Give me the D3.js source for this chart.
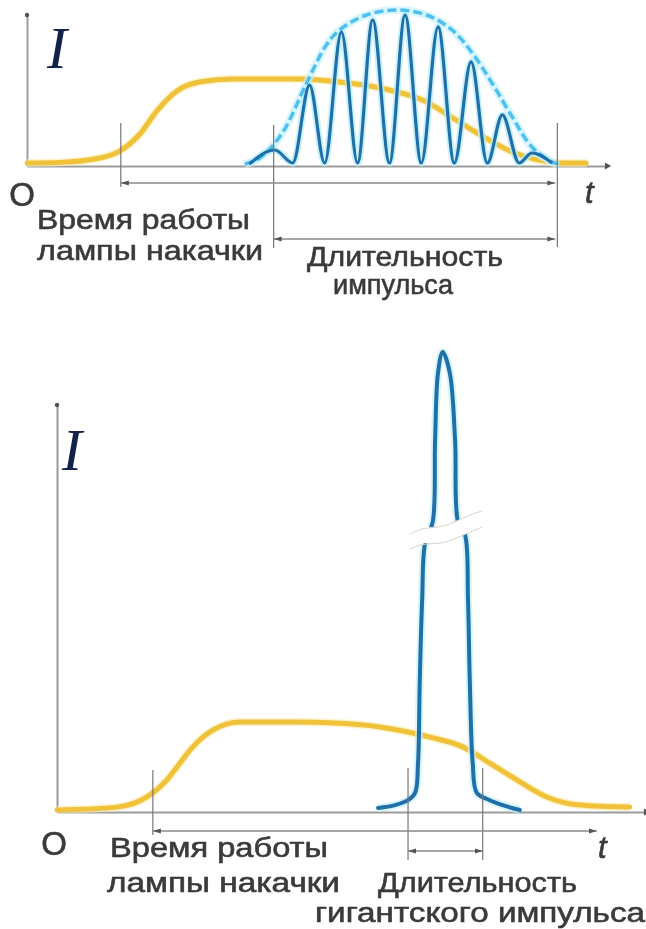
<!DOCTYPE html>
<html><head><meta charset="utf-8">
<script src="https://cdn.jsdelivr.net/npm/d3@7"></script>
<style>body{margin:0;background:#fff}svg{display:block}</style>
</head><body>
<script>
// ---------- DATA (t: 0..100 along time axis, I: 0..100 along intensity axis) ----------
// Top panel: free-running laser
const topPump = [[0,2.0],[5.7,2.4],[12.6,5.3],[16.0,9.9],[19.5,21.2],[22.4,36.4],[25.9,49.7],[29.8,55.6],[35.5,57.6],[47.1,57.6],[54.0,55.6],[62.6,50.3],[68.3,43.7],[74.1,30.5],[79.8,17.2],[83.8,9.3],[88.4,4.0],[92.8,2.0],[96.6,2.0]];
const topEnvelope = [[37.6,1.3],[40.2,5.3],[44.1,21.9],[48.3,55.0],[51.7,80.1],[54.0,90.1],[58.6,100],[63.8,103.3],[69.0,100],[73.4,90.1],[76.9,74.8],[80.3,55.0],[83.8,32.5],[87.2,12.6],[90.7,2.6],[91.9,1.3]];
const topPulse = [[38.4,1.3],[42.8,10.6],[45.9,2.0],[48.8,53.6],[51.4,2.0],[54.3,88.7],[57.1,2.0],[59.7,96.7],[62.6,2.0],[65.3,100],[68.1,2.0],[71.0,92.1],[73.8,2.0],[76.7,68.9],[79.5,2.0],[82.1,33.8],[85.0,2.0],[87.2,8.6],[90.7,2.0]];
const topMarkers = [16.2, 42.6, 91.6];      // vertical marker lines (t)
const topMarkerTop = [28.5, 27.2, 28.5];    // I where marker lines start
// Bottom panel: Q-switched (giant pulse)
const botPump = [[0,0.5],[10.2,1.2],[15.3,3.7],[18.7,7.9],[20.9,12.0],[23.1,16.0],[26.5,20.1],[31.1,22.1],[41.3,22.1],[46.4,21.9],[54.9,20.9],[63.4,18.4],[69.0,16.0],[73.6,12.0],[78.2,7.9],[83.3,3.7],[88.9,1.7],[97.4,1.2]];
const botPulse = [[54.6,1.0],[57.5,1.7],[59.7,2.9],[60.9,4.7],[61.4,12.0],[61.7,32.4],[62.1,52.1],[62.6,66.1],[63.9,71.3],[64.3,91.4],[64.8,107.9],[65.6,113.0],[66.8,107.9],[67.7,91.4],[68.2,71.3],[69.4,68.1],[69.9,52.1],[70.2,32.4],[70.7,12.0],[71.4,4.7],[73.6,2.9],[76.2,1.5],[78.7,0.5]];
const botBreakUpper = [[60.0,68.3],[62.6,70.0],[65.1,69.8],[67.7,71.3],[70.2,73.0],[72.3,74.0]];
const botBreakLower = [[72.3,70.0],[70.2,68.8],[67.7,67.1],[65.1,65.8],[62.6,66.1],[60.0,64.6]];
const botMarkers = [16.3, 59.7, 72.4];
const botMarkerTop = [10.3, 10.8, 10.8];
const botPumpArrowEnd = 91.8;
// Texts
const axisLabels = {I: "I", O: "O", t: "t"};
const topTexts = ["Время работы", "лампы накачки", "Длительность", "импульса"];
const botTexts = ["Время работы", "лампы накачки", "Длительность", "гигантского импульса"];

// ---------- DRAWING ----------
const W = 646, H = 929;
const svg = d3.select("body").append("svg").attr("width", W).attr("height", H);
const defs = svg.append("defs");
defs.append("marker").attr("id","arr").attr("viewBox","0 0 8 6").attr("refX",8).attr("refY",3)
  .attr("markerWidth",8).attr("markerHeight",6).attr("markerUnits","userSpaceOnUse")
  .attr("orient","auto-start-reverse")
  .append("path").attr("d","M0,0.5L8,3L0,5.5Z").attr("fill","#555");
defs.append("filter").attr("id","soft").append("feGaussianBlur").attr("stdDeviation",0.35);

const AX = "#9c9c9c", TXT = "#3a3a3a", YEL = "#efc23a", BLUE = "#1f6fa8", LBLUE = "#4ec0ee";
const sans = "'Liberation Sans', Arial, sans-serif";

function panel(cfg) {
  const {x, y} = cfg;
  const g = svg.append("g");
  g.append("g").attr("transform", `translate(0,${y(0)})`)
    .call(d3.axisBottom(x).tickValues([]).tickSizeOuter(0));
  g.append("g").attr("transform", `translate(${x(0)},0)`)
    .call(d3.axisLeft(y).tickValues([]).tickSizeOuter(0));
  g.selectAll(".domain").attr("stroke", AX).attr("stroke-width", 2);
  g.append("path").attr("d", d3.symbol(d3.symbolTriangle, 22))
    .attr("transform", `translate(${x(100)+1},${y(0)}) rotate(90)`).attr("fill", "#555");
  g.append("circle").attr("cx", x(0)).attr("cy", y(100)).attr("r", 2.2).attr("fill", "#555");
  return g;
}

function txt(g, s, x, y, size, len, opts={}) {
  const t = g.append("text").attr("x",x).attr("y",y).text(s)
    .attr("font-family", opts.family || sans).attr("font-size", size)
    .attr("fill", opts.fill || TXT);
  if (!opts.family) t.attr("stroke", opts.fill || TXT).attr("stroke-width", 0.6).attr("filter","url(#soft)");
  if (opts.italic) t.attr("font-style","italic");
  if (opts.anchor) t.attr("text-anchor", opts.anchor);
  if (len) t.attr("textLength", len).attr("lengthAdjust","spacingAndGlyphs");
  return t;
}

// ---------- TOP ----------
const xT = d3.scaleLinear([0,100],[27,606]);
const yT = d3.scaleLinear([0,100],[166,15]);
const gT = panel({x:xT, y:yT});
const lineT = d3.line().x(d=>xT(d[0])).y(d=>yT(d[1]));

gT.append("path").datum(topPump).attr("d", lineT.curve(d3.curveMonotoneX))
  .attr("fill","none").attr("stroke","#fbe9a8").attr("stroke-width",8).attr("opacity",0.6);
gT.append("path").datum(topPump).attr("d", lineT.curve(d3.curveMonotoneX))
  .attr("fill","none").attr("stroke",YEL).attr("stroke-width",5).attr("stroke-linecap","round");
gT.append("path").datum(topEnvelope).attr("d", lineT.curve(d3.curveCatmullRom))
  .attr("fill","none").attr("stroke","#c9f1fd").attr("stroke-width",8).attr("opacity",0.7);
gT.append("path").datum(topPulse).attr("d", lineT.curve(d3.curveMonotoneX))
  .attr("fill","none").attr("stroke","#bdeefc").attr("stroke-width",7).attr("opacity",0.8);
gT.append("path").datum(topEnvelope).attr("d", lineT.curve(d3.curveCatmullRom))
  .attr("fill","none").attr("stroke",LBLUE).attr("stroke-width",3.5).attr("stroke-dasharray","9,4");
gT.append("path").datum(topPulse).attr("d", lineT.curve(d3.curveMonotoneX))
  .attr("fill","none").attr("stroke",BLUE).attr("stroke-width",3.2);

const topMarkerBottom = [187, 248, 247];
gT.selectAll("line.mk").data(topMarkers).join("line").attr("class","mk")
  .attr("x1",d=>xT(d)).attr("x2",d=>xT(d))
  .attr("y1",(d,i)=>yT(topMarkerTop[i])).attr("y2",(d,i)=>topMarkerBottom[i])
  .attr("stroke","#777").attr("stroke-width",1.2);
gT.append("line").attr("x1",xT(topMarkers[0])).attr("x2",xT(topMarkers[2])-2)
  .attr("y1",183).attr("y2",183).attr("stroke","#888").attr("stroke-width",1.5)
  .attr("marker-start","url(#arr)").attr("marker-end","url(#arr)");
gT.append("line").attr("x1",xT(topMarkers[1])).attr("x2",xT(topMarkers[2])-2)
  .attr("y1",239).attr("y2",239).attr("stroke","#888").attr("stroke-width",1.5)
  .attr("marker-start","url(#arr)").attr("marker-end","url(#arr)");

txt(gT, axisLabels.I, 47, 68, 60, null, {family:"'Liberation Serif', 'Times New Roman', serif", italic:true, fill:"#13224a"});
txt(gT, axisLabels.O, 22, 206, 33, null, {anchor:"middle"});
txt(gT, axisLabels.t, 585, 203, 31, null, {italic:true});
txt(gT, topTexts[0], 37, 229, 28, 213);
txt(gT, topTexts[1], 37, 260, 28, 226);
txt(gT, topTexts[2], 307, 266, 28, 196);
txt(gT, topTexts[3], 333, 294, 28, 120);

// ---------- BOTTOM ----------
const xB = d3.scaleLinear([0,100],[57,645]);
const yB = d3.scaleLinear([0,100],[812,405]);
const gB = panel({x:xB, y:yB});
const lineB = d3.line().x(d=>xB(d[0])).y(d=>yB(d[1]));

gB.append("path").datum(botPump).attr("d", lineB.curve(d3.curveMonotoneX))
  .attr("fill","none").attr("stroke","#fbe9a8").attr("stroke-width",8).attr("opacity",0.6);
gB.append("path").datum(botPump).attr("d", lineB.curve(d3.curveMonotoneX))
  .attr("fill","none").attr("stroke",YEL).attr("stroke-width",5).attr("stroke-linecap","round");
gB.append("path").datum(botPulse).attr("d", lineB.curve(d3.curveCatmullRom.alpha(0.5)))
  .attr("fill","none").attr("stroke","#c6effc").attr("stroke-width",8).attr("opacity",0.7);
gB.append("path").datum(botPulse).attr("d", lineB.curve(d3.curveCatmullRom.alpha(0.5)))
  .attr("fill","none").attr("stroke",BLUE).attr("stroke-width",4).attr("stroke-linecap","round");
gB.append("path").datum(botBreakUpper.concat(botBreakLower))
  .attr("d", lineB.curve(d3.curveLinearClosed)).attr("fill","#fff");
[botBreakUpper, botBreakLower].forEach(e => gB.append("path").datum(e)
  .attr("d", lineB.curve(d3.curveBasis)).attr("fill","none").attr("stroke","#d9d4cc").attr("stroke-width",1));

const botMarkerBottom = [835, 860, 860];
gB.selectAll("line.mk").data(botMarkers).join("line").attr("class","mk")
  .attr("x1",d=>xB(d)).attr("x2",d=>xB(d))
  .attr("y1",(d,i)=>yB(botMarkerTop[i])).attr("y2",(d,i)=>botMarkerBottom[i])
  .attr("stroke","#777").attr("stroke-width",1.2);
gB.append("line").attr("x1",xB(botMarkers[0])).attr("x2",xB(botPumpArrowEnd))
  .attr("y1",831).attr("y2",831).attr("stroke","#888").attr("stroke-width",1.5)
  .attr("marker-start","url(#arr)").attr("marker-end","url(#arr)");
gB.append("line").attr("x1",xB(botMarkers[1])).attr("x2",xB(botMarkers[2]))
  .attr("y1",851).attr("y2",851).attr("stroke","#888").attr("stroke-width",1.5)
  .attr("marker-start","url(#arr)").attr("marker-end","url(#arr)");

txt(gB, axisLabels.I, 62, 470, 60, null, {family:"'Liberation Serif', 'Times New Roman', serif", italic:true, fill:"#13224a"});
txt(gB, axisLabels.O, 54, 855, 33, null, {anchor:"middle"});
txt(gB, axisLabels.t, 598, 858, 31, null, {italic:true});
txt(gB, botTexts[0], 110, 857, 28, 218);
txt(gB, botTexts[1], 107, 892, 28, 233);
txt(gB, botTexts[2], 378, 892, 28, 199);
txt(gB, botTexts[3], 315, 922, 28, 330);
</script>
</body></html>
